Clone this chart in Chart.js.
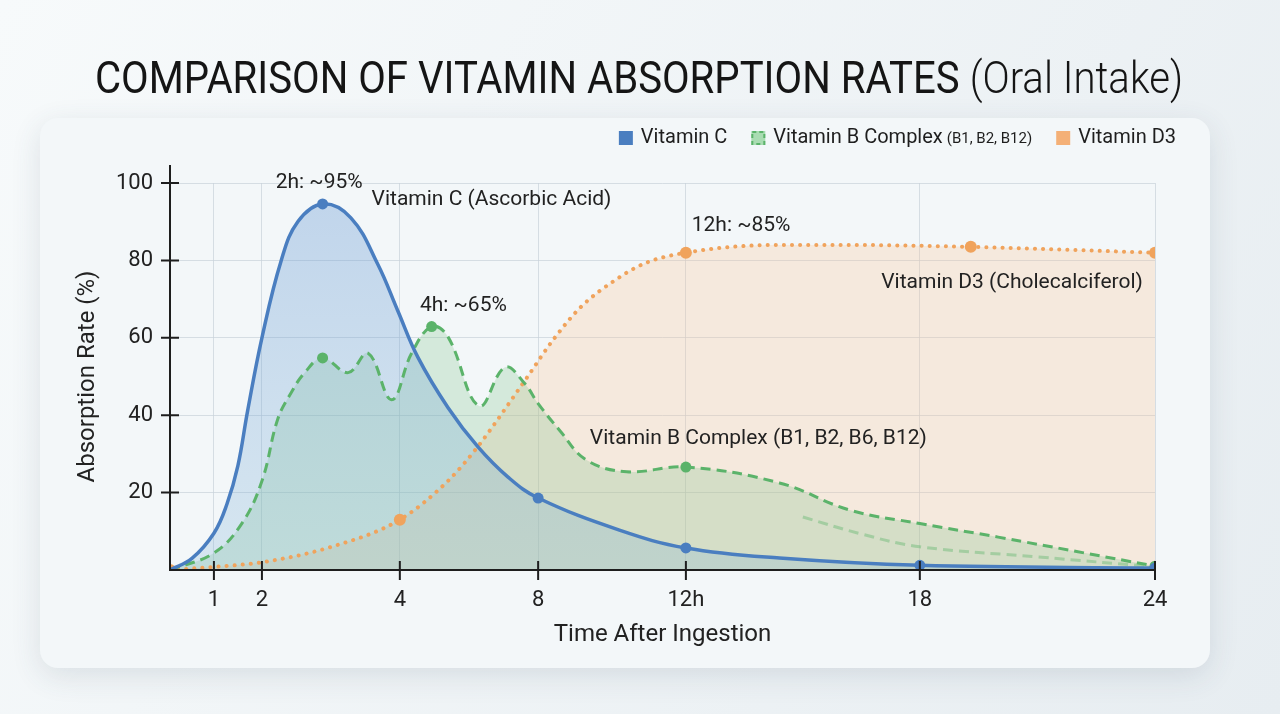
<!DOCTYPE html>
<html>
<head>
<meta charset="utf-8">
<script src="https://cdn.jsdelivr.net/npm/chart.js@4.4.1/dist/chart.umd.min.js"></script>
<style>
  html, body { margin: 0; padding: 0; background: #eef3f6; }
  #wrap { width: 1280px; height: 714px; }
</style>
</head>
<body>
<div id="wrap"><canvas id="absorptionChart" width="1280" height="714"></canvas></div>
<script>
// --- data (hours after ingestion / absorption %) ---
var vitCHours = [0, 0.5, 1, 1.27, 1.5, 1.7, 2, 2.28, 2.52, 2.88, 3.29, 3.68, 3.97, 4.52, 5.39, 6.26, 7.13, 8, 10.2, 12, 14.4, 18, 24];
var vitCValues = [0, 3, 9.5, 17, 27, 41, 60, 80, 90, 94.6, 91, 79, 67, 55, 42, 31.8, 24, 18.6, 10.3, 5.7, 3.1, 1.2, 0.5];
var vitCMarkers = [2.88, 8, 12, 18, 24];

var vitBHours = [0, 1, 1.58, 2, 2.23, 2.43, 2.62, 2.88, 3.25, 3.54, 3.88, 4.34, 4.92, 5.39, 6.29, 7.04, 7.6, 8, 8.59, 9.31, 10.4, 12, 14.4, 16.2, 18, 20, 24];
var vitBValues = [0, 4.4, 12, 23, 39, 46, 51, 54.8, 51, 56, 44, 56, 62.9, 60.3, 42.4, 52.4, 48.3, 43, 36, 28.4, 25.4, 26.6, 22.5, 15.5, 12, 8.5, 1];
var vitBMarkers = [2.88, 4.92, 12, 24];

var vitBTailHours = [15, 16.5, 18, 21, 24];
var vitBTailValues = [13.7, 9.3, 6, 3.4, 0.8];

var vitDHours = [0, 1, 2, 3.01, 4, 5.39, 6.22, 7.62, 8.4, 9.16, 10.1, 10.9, 12, 14.4, 15.9, 19.3, 24];
var vitDValues = [0, 0.8, 2, 6, 13, 23, 31.5, 49, 59.4, 68, 75, 79.3, 82, 84, 84, 83.5, 82];
var vitDMarkers = [0, 4, 12, 19.3, 24];

var tickHours = [1, 2, 4, 8, 12, 18, 24];
var tickLabels = ['1', '2', '4', '8', '12h', '18', '24'];
var yTicks = [20, 40, 60, 80, 100];

var notes = [
  { text: '2h: ~95%', h: 2.83, v: 100, align: 'center' },
  { text: 'Vitamin C (Ascorbic Acid)', h: 3.59, v: 95.6, align: 'left' },
  { text: '4h: ~65%', h: 4.58, v: 68.2, align: 'left' },
  { text: '12h: ~85%', h: 12.15, v: 88.9, align: 'left' },
  { text: 'Vitamin D3 (Cholecalciferol)', h: 23.69, v: 74.2, align: 'right' },
  { text: 'Vitamin B Complex (B1, B2, B6, B12)', h: 9.4, v: 33.9, align: 'left' }
];

// the time axis is stretched unevenly in the original; piecewise mapping hours -> axis units
var warpHours = [0, 1, 2, 4, 8, 12, 18, 24];
var warpUnits = [0, 1.07, 2.24, 5.6, 8.97, 12.57, 18.27, 24];
function warp(h) {
  for (var i = 1; i < warpHours.length; i++) {
    if (h <= warpHours[i]) {
      var t = (h - warpHours[i - 1]) / (warpHours[i] - warpHours[i - 1]);
      return warpUnits[i - 1] + t * (warpUnits[i] - warpUnits[i - 1]);
    }
  }
  return warpUnits[warpUnits.length - 1];
}

function points(hours, values) {
  return hours.map(function (h, i) { return { x: warp(h), y: values[i] }; });
}
function markerRadius(hours, markers, r) {
  return function (ctx) { return markers.indexOf(hours[ctx.dataIndex]) >= 0 ? r : 0; };
}

var FONT = 'Roboto, "Noto Sans", sans-serif';
var BLUE = '#4a7ec0', GREEN = '#5bb36a', ORANGE = '#f0a35c';

function roundRect(c, x, y, w, h, r) {
  c.beginPath();
  c.moveTo(x + r, y);
  c.arcTo(x + w, y, x + w, y + h, r);
  c.arcTo(x + w, y + h, x, y + h, r);
  c.arcTo(x, y + h, x, y, r);
  c.arcTo(x, y, x + w, y, r);
  c.closePath();
}

// draw text squeezed horizontally to a given width (the original uses a narrow face)
function fitText(c, text, x, y, width) {
  var w = c.measureText(text).width;
  c.save();
  c.translate(x, y);
  c.scale(width / w, 1);
  c.fillText(text, 0, 0);
  c.restore();
}

var backgroundPlugin = {
  id: 'cardBackground',
  beforeDraw: function (chart) {
    var c = chart.ctx;
    c.save();
    var g = c.createLinearGradient(0, 0, chart.width, chart.height);
    g.addColorStop(0, '#f7fafb');
    g.addColorStop(1, '#e7edf1');
    c.fillStyle = g;
    c.fillRect(0, 0, chart.width, chart.height);
    c.shadowColor = 'rgba(60,80,100,0.14)';
    c.shadowBlur = 30;
    c.shadowOffsetY = 8;
    roundRect(c, 40, 118, 1170, 550, 18);
    c.fillStyle = '#f3f7f9';
    c.fill();
    c.restore();
  }
};

var overlayPlugin = {
  id: 'overlay',
  afterDraw: function (chart) {
    var c = chart.ctx, xs = chart.scales.x, ys = chart.scales.y, a = chart.chartArea;
    c.save();

    // axes with crossing tick marks
    c.strokeStyle = '#1e1e1e';
    c.lineWidth = 2;
    c.beginPath();
    c.moveTo(a.left, a.top - 18);
    c.lineTo(a.left, a.bottom);
    c.lineTo(a.right, a.bottom);
    c.stroke();
    c.beginPath();
    yTicks.forEach(function (v) {
      var py = ys.getPixelForValue(v);
      c.moveTo(a.left - 9, py); c.lineTo(a.left + 9, py);
    });
    tickHours.forEach(function (h) {
      var px = xs.getPixelForValue(warp(h));
      c.moveTo(px, a.bottom - 9); c.lineTo(px, a.bottom + 10);
    });
    c.stroke();

    // axis titles
    c.fillStyle = '#222';
    c.font = '24px ' + FONT;
    c.textAlign = 'center';
    c.textBaseline = 'middle';
    c.fillText('Time After Ingestion', (a.left + a.right) / 2, 635);
    c.save();
    c.translate(88, (a.top + a.bottom) / 2);
    c.rotate(-Math.PI / 2);
    c.fillText('Absorption Rate (%)', 0, 0);
    c.restore();

    // title, two weights, narrow
    var t1 = 'COMPARISON OF VITAMIN ABSORPTION RATES ', t2 = '(Oral Intake)';
    c.textBaseline = 'alphabetic';
    c.textAlign = 'left';
    c.font = '400 44px ' + FONT;
    var w1 = c.measureText(t1).width;
    c.font = '300 44px ' + FONT;
    var w2 = c.measureText(t2).width;
    var k = 1088 / (w1 + w2);
    c.fillStyle = '#151515';
    c.font = '400 44px ' + FONT;
    fitText(c, t1, 95, 93, w1 * k);
    c.font = '300 44px ' + FONT;
    fitText(c, t2, 95 + w1 * k, 93, w2 * k);

    // legend
    var items = [
      { main: 'Vitamin C', sub: '', kind: 'blue' },
      { main: 'Vitamin B Complex', sub: '(B1, B2, B12)', kind: 'green' },
      { main: 'Vitamin D3', sub: '', kind: 'orange' }
    ];
    var widths = items.map(function (it) {
      c.font = '20px ' + FONT;
      var w = 14 + 8 + c.measureText(it.main).width;
      if (it.sub) { c.font = '15px ' + FONT; w += 4 + c.measureText(it.sub).width; }
      return w;
    });
    var gap = 24;
    var total = widths.reduce(function (s, w) { return s + w; }, 0) + gap * (items.length - 1);
    var lx = 1176 - total, ly = 138;
    items.forEach(function (it, i) {
      if (it.kind === 'blue') { c.fillStyle = BLUE; c.fillRect(lx, ly - 7, 14, 14); }
      if (it.kind === 'orange') { c.fillStyle = '#f4b077'; c.fillRect(lx, ly - 7, 14, 14); }
      if (it.kind === 'green') {
        c.fillStyle = '#a9dcb2'; c.fillRect(lx, ly - 7, 14, 14);
        c.setLineDash([4, 3]); c.strokeStyle = GREEN; c.lineWidth = 2;
        c.strokeRect(lx + 1, ly - 6, 12, 12); c.setLineDash([]);
      }
      c.fillStyle = '#1e1e1e';
      c.textBaseline = 'middle';
      c.font = '20px ' + FONT;
      c.fillText(it.main, lx + 22, ly);
      if (it.sub) {
        var mw = c.measureText(it.main).width;
        c.font = '15px ' + FONT;
        c.fillText(it.sub, lx + 22 + mw + 4, ly + 1);
      }
      lx += widths[i] + gap;
    });

    // annotations anchored in data space
    c.font = '21px ' + FONT;
    c.fillStyle = '#222';
    c.textBaseline = 'middle';
    notes.forEach(function (n) {
      c.textAlign = n.align;
      c.fillText(n.text, xs.getPixelForValue(warp(n.h)), ys.getPixelForValue(n.v));
    });
    c.restore();
  }
};

var ctx = document.getElementById('absorptionChart').getContext('2d');

var blueFill = function (context) {
  var area = context.chart.chartArea;
  if (!area) return 'rgba(110,160,215,0.3)';
  var g = context.chart.ctx.createLinearGradient(0, area.top, 0, area.bottom);
  g.addColorStop(0, 'rgba(100,150,210,0.36)');
  g.addColorStop(1, 'rgba(130,180,215,0.26)');
  return g;
};

var absorptionChart = new Chart(ctx, {
  type: 'line',
  data: {
    datasets: [
      {
        label: 'Vitamin C',
        data: points(vitCHours, vitCValues),
        borderColor: BLUE,
        borderWidth: 3.5,
        backgroundColor: blueFill,
        fill: 'origin',
        tension: 0.4,
        pointRadius: markerRadius(vitCHours, vitCMarkers, 5.5),
        pointBackgroundColor: BLUE,
        pointBorderWidth: 0
      },
      {
        label: 'Vitamin B Complex',
        data: points(vitBHours, vitBValues),
        borderColor: GREEN,
        borderWidth: 3,
        borderDash: [10, 6],
        backgroundColor: 'rgba(125,195,135,0.26)',
        fill: 'origin',
        tension: 0.4,
        pointRadius: markerRadius(vitBHours, vitBMarkers, 5.5),
        pointBackgroundColor: GREEN,
        pointBorderWidth: 0
      },
      {
        label: 'Vitamin B Complex tail',
        data: points(vitBTailHours, vitBTailValues),
        borderColor: 'rgba(91,179,106,0.4)',
        borderWidth: 3,
        borderDash: [10, 6],
        fill: false,
        tension: 0.4,
        pointRadius: 0
      },
      {
        label: 'Vitamin D3',
        data: points(vitDHours, vitDValues),
        borderColor: ORANGE,
        borderWidth: 4,
        borderDash: [0.1, 8],
        borderCapStyle: 'round',
        backgroundColor: 'rgba(250,196,150,0.28)',
        fill: 'origin',
        cubicInterpolationMode: 'monotone',
        pointRadius: markerRadius(vitDHours, vitDMarkers, 6),
        pointBackgroundColor: ORANGE,
        pointBorderWidth: 0
      }
    ]
  },
  options: {
    responsive: false,
    animation: false,
    events: [],
    layout: { padding: { top: 183, right: 125, bottom: 0, left: 0 } },
    plugins: {
      legend: { display: false },
      title: { display: false },
      tooltip: { enabled: false },
      filler: { drawTime: 'beforeDatasetsDraw' }
    },
    scales: {
      x: {
        type: 'linear',
        min: 0,
        max: 24,
        afterFit: function (scale) { scale.height = 144; },
        afterBuildTicks: function (scale) {
          scale.ticks = tickHours.map(function (h) { return { value: warp(h) }; });
        },
        ticks: {
          autoSkip: false,
          maxRotation: 0,
          padding: 17,
          color: '#222',
          font: { family: FONT, size: 22 },
          callback: function (value, index) { return tickLabels[index]; }
        },
        grid: { color: 'rgba(200,210,218,0.7)', lineWidth: 1, drawTicks: false },
        border: { display: false }
      },
      y: {
        min: 0,
        max: 100,
        afterFit: function (scale) { scale.width = 170; },
        afterBuildTicks: function (scale) {
          scale.ticks = yTicks.map(function (v) { return { value: v }; });
        },
        ticks: {
          padding: 17,
          color: '#222',
          font: { family: FONT, size: 22 }
        },
        grid: { color: 'rgba(200,210,218,0.7)', lineWidth: 1, drawTicks: false },
        border: { display: false }
      }
    }
  },
  plugins: [backgroundPlugin, overlayPlugin]
});
</script>
</body>
</html>
